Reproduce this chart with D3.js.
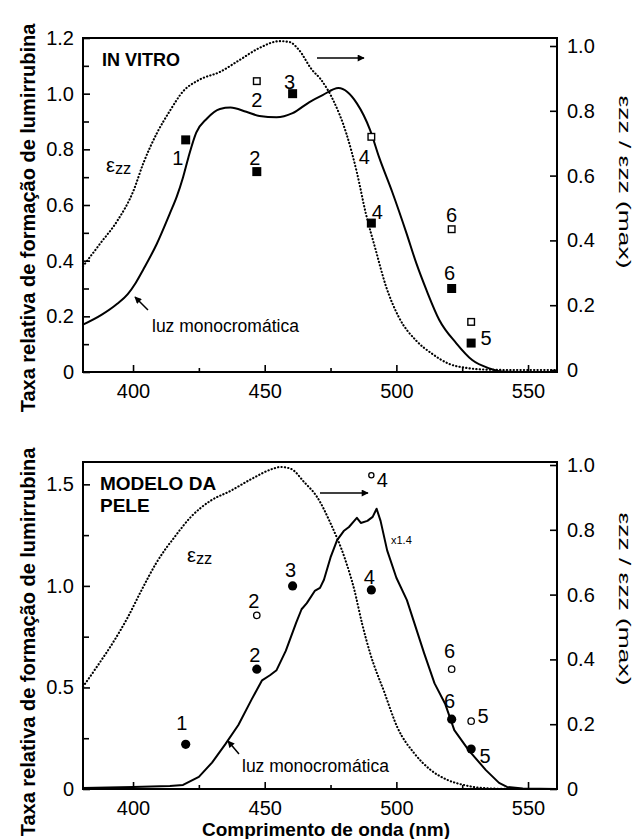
<!DOCTYPE html>
<html><head><meta charset="utf-8">
<script src="https://cdn.jsdelivr.net/npm/d3@7"></script>
<style>
body{margin:0;background:#fff;}
svg text{font-family:"Liberation Sans",Arial,sans-serif;fill:#000;}
</style></head>
<body><svg id="c" width="636" height="839"></svg>
<script>
// ---------- DATA ----------
// Top panel (IN VITRO)
const topLightNm  = [381, 388, 394, 398, 401, 404, 409, 414, 416.6, 419, 421, 424, 428, 433, 437, 443, 448, 454.5, 460.6, 467, 472, 478, 485, 490, 493.5, 498.5, 503.8, 507.6, 511.4, 516.3, 522.7, 528.8, 535, 540, 550, 561];
const topLightVal = [0.17, 0.205, 0.245, 0.28, 0.32, 0.37, 0.46, 0.57, 0.63, 0.70, 0.77, 0.86, 0.91, 0.945, 0.95, 0.935, 0.92, 0.915, 0.93, 0.97, 0.995, 1.02, 0.965, 0.87, 0.77, 0.645, 0.50, 0.39, 0.295, 0.187, 0.104, 0.043, 0.014, 0.002, 0, 0];
const topEpsNm  = [381, 387.5, 394, 400, 404, 409, 414, 419, 425, 433, 440.5, 448, 455.7, 459.5, 463, 468, 471, 476, 481, 485, 488.5, 492, 496, 501, 507.6, 513.6, 520, 527, 535, 545, 561];
const topEpsVal = [0.32, 0.39, 0.46, 0.55, 0.64, 0.73, 0.80, 0.86, 0.895, 0.92, 0.957, 0.994, 1.015, 1.012, 0.988, 0.926, 0.9, 0.833, 0.73, 0.61, 0.48, 0.375, 0.26, 0.162, 0.09, 0.05, 0.019, 0.006, 0.001, 0, 0];

// Bottom panel (MODELO DA PELE)
const botLightNm  = [381, 400, 414, 419, 425, 430, 435, 440, 445, 449, 452, 454.5, 458, 462, 464, 466, 469, 471, 472.5, 475, 477.5, 480, 482, 484, 485, 486.5, 489, 491, 492.5, 494, 496.5, 500, 504, 506.5, 510.5, 514.5, 518.5, 522, 527.5, 534, 539, 542, 548, 561];
const botLightVal = [0.005, 0.01, 0.015, 0.02, 0.06, 0.13, 0.22, 0.315, 0.44, 0.535, 0.56, 0.585, 0.68, 0.82, 0.885, 0.915, 0.975, 0.99, 1.03, 1.14, 1.225, 1.27, 1.29, 1.32, 1.335, 1.31, 1.32, 1.34, 1.38, 1.32, 1.175, 1.04, 0.93, 0.83, 0.67, 0.52, 0.42, 0.29, 0.19, 0.093, 0.03, 0.01, 0.003, 0];
const botEpsNm  = [381, 386.5, 393, 398, 403, 409, 416, 422, 429.5, 437, 445, 453, 456, 460, 465, 470, 475, 480.5, 484, 487, 490, 495.5, 500.4, 506.8, 513, 519.4, 525.8, 533, 545, 561];
const botEpsVal = [0.316, 0.38, 0.46, 0.53, 0.61, 0.70, 0.78, 0.84, 0.89, 0.92, 0.957, 0.988, 0.994, 0.988, 0.947, 0.90, 0.82, 0.71, 0.616, 0.51, 0.42, 0.297, 0.19, 0.11, 0.059, 0.028, 0.012, 0.003, 0, 0];

// Experimental points
const pointNm  = [420, 447, 460.6, 490.5, 521, 528.4];
const pointIds = ["1", "2", "3", "4", "6", "5"];
const topFilled = [0.834, 0.72, 1.0, 0.535, 0.30, 0.104];
const topOpen   = [null, 1.045, null, 0.845, 0.513, 0.18];
const botFilled = [0.22, 0.59, 1.0, 0.98, 0.344, 0.197];
const botOpen   = [null, 0.855, null, 1.545, 0.59, 0.334];

// Tick labels
const xTicks = [400, 450, 500, 550];
const topLeftTicks = [0, 0.2, 0.4, 0.6, 0.8, 1.0, 1.2];
const botLeftTicks = [0, 0.5, 1.0, 1.5];
const rightTicks = [0, 0.2, 0.4, 0.6, 0.8, 1.0];

// ---------- LAYOUT (positions / offsets, not data) ----------
const L = 83, R = 557;
const topP = {t: 38, b: 372, rT: 46, rB: 370, yMax: 1.2, leftTicks: topLeftTicks, minorStep: 0.2, xPad: 12};
const botP = {t: 462, b: 789, rT: 465, rB: 789, yMax: 1.61, leftTicks: botLeftTicks, minorStep: 0.5, xPad: 12};
// label offsets [dx, dy] relative to marker centre (baseline)
const topFilledOff = [[-8, 25], [-2, -7], [-3, -5], [6, -4], [-2, -9], [15, 2]];
const topOpenOff   = [null, [0, 26], null, [-7, 27], [0, -7], null];
const botFilledOff = [[-4, -14], [-2, -7], [-2, -9], [-2, -6], [-2, -11], [14, 14]];
const botOpenOff   = [null, [-3, -7], null, [11, 12], [-2, -11], [12, 2]];

const svg = d3.select("#c");
const fmt = d => d === 0 ? "0" : d3.format(".1f")(d);

function panel(P, lightNm, lightVal, epsNm, epsVal, filled, open, fOff, oOff, shape, smoothLight) {
  const x = d3.scaleLinear().domain([381, 561]).range([L, R]);
  const y = d3.scaleLinear().domain([0, P.yMax]).range([P.b, P.t]);
  const yr = d3.scaleLinear().domain([0, 1]).range([P.rB, P.rT]);
  const g = svg.append("g");

  const fontStyle = s => s.selectAll("text").style("font-size", "20px");
  const ax = g.append("g").attr("transform", `translate(0,${P.b})`)
    .call(d3.axisBottom(x).tickValues(xTicks).tickSize(-7).tickPadding(P.xPad).tickFormat(d3.format("d")));
  g.append("g").attr("transform", `translate(0,${P.b})`)
    .call(d3.axisBottom(x).tickValues([425, 475, 525]).tickSize(-4).tickFormat(""));
  const al = g.append("g").attr("transform", `translate(${L},0)`)
    .call(d3.axisLeft(y).tickValues(P.leftTicks).tickSize(-7).tickPadding(9).tickFormat(fmt));
  const minor = d3.range(P.minorStep / 2, P.yMax, P.minorStep);
  g.append("g").attr("transform", `translate(${L},0)`)
    .call(d3.axisLeft(y).tickValues(minor).tickSize(-6).tickFormat(""));
  const ar = g.append("g").attr("transform", `translate(${R},0)`)
    .call(d3.axisRight(yr).tickValues(rightTicks).tickSize(-7).tickPadding(10).tickFormat(fmt));
  [ax, al, ar].forEach(fontStyle);
  g.selectAll(".domain").remove();
  g.selectAll(".tick line").attr("stroke", "#000").attr("stroke-width", 1.6);

  g.append("rect").attr("x", L).attr("y", P.t).attr("width", R - L).attr("height", P.b - P.t)
    .attr("fill", "none").attr("stroke", "#000").attr("stroke-width", 2);

  const lightLine = d3.line().x((d, i) => x(lightNm[i])).y(d => y(d))
    .curve(smoothLight ? d3.curveMonotoneX : d3.curveLinear);
  g.append("path").attr("d", lightLine(lightVal)).attr("fill", "none")
    .attr("stroke", "#000").attr("stroke-width", 2).attr("stroke-linejoin", "round");
  const epsLine = d3.line().x((d, i) => x(epsNm[i])).y(d => yr(d)).curve(d3.curveMonotoneX);
  g.append("path").attr("d", epsLine(epsVal)).attr("fill", "none")
    .attr("stroke", "#000").attr("stroke-width", 2.1).attr("stroke-linecap", "round")
    .attr("stroke-dasharray", "0.3 3.1");

  pointNm.forEach((nm, i) => {
    const cx = x(nm);
    if (filled[i] != null) {
      const cy = y(filled[i]);
      if (shape === "square") g.append("rect").attr("x", cx - 4.5).attr("y", cy - 4.5).attr("width", 9).attr("height", 9).attr("fill", "#000");
      else g.append("circle").attr("cx", cx).attr("cy", cy).attr("r", 4.6).attr("fill", "#000");
      if (fOff[i]) g.append("text").attr("x", cx + fOff[i][0]).attr("y", cy + fOff[i][1])
        .attr("text-anchor", "middle").style("font-size", "20px").text(pointIds[i]);
    }
    if (open[i] != null) {
      const cy = y(open[i]);
      if (shape === "square") g.append("rect").attr("x", cx - 3.3).attr("y", cy - 3.3).attr("width", 6.6).attr("height", 6.6)
        .attr("fill", "#fff").attr("stroke", "#000").attr("stroke-width", 1.4);
      else g.append("circle").attr("cx", cx).attr("cy", cy).attr("r", i === 3 ? 2.6 : 3.2)
        .attr("fill", "#fff").attr("stroke", "#000").attr("stroke-width", 1.3);
      if (oOff[i]) g.append("text").attr("x", cx + oOff[i][0]).attr("y", cy + oOff[i][1])
        .attr("text-anchor", "middle").style("font-size", "20px").text(pointIds[i]);
    }
  });
  return g;
}

panel(topP, topLightNm, topLightVal, topEpsNm, topEpsVal, topFilled, topOpen, topFilledOff, topOpenOff, "square", true);
panel(botP, botLightNm, botLightVal, botEpsNm, botEpsVal, botFilled, botOpen, botFilledOff, botOpenOff, "circle", false);

const defs = svg.append("defs");
defs.append("marker").attr("id", "ah").attr("viewBox", "0 0 10 10").attr("refX", 9).attr("refY", 5)
  .attr("markerWidth", 9).attr("markerHeight", 7).attr("markerUnits", "userSpaceOnUse").attr("orient", "auto")
  .append("path").attr("d", "M0,0 L10,5 L0,10 Z").attr("fill", "#000");

function arrow(x1, y1, x2, y2) {
  svg.append("line").attr("x1", x1).attr("y1", y1).attr("x2", x2).attr("y2", y2)
    .attr("stroke", "#000").attr("stroke-width", 1.5).attr("marker-end", "url(#ah)");
}
function eps(xp, yp, size) {
  const t = svg.append("text").attr("x", xp).attr("y", yp).style("font-size", size + "px");
  t.append("tspan").text("ε");
  t.append("tspan").attr("dy", 2).style("font-size", (size * 0.82) + "px").text("zz");
}

// Top annotations
svg.append("text").attr("x", 102).attr("y", 66).style("font-size", "18px").style("font-weight", "bold").text("IN VITRO");
eps(106, 172, 20);
arrow(317, 58, 364, 58);
svg.append("text").attr("x", 152).attr("y", 332).style("font-size", "17.5px").text("luz monocromática");
arrow(148, 310, 135, 297);

// Bottom annotations
svg.append("text").attr("x", 100).attr("y", 490).style("font-size", "19px").style("font-weight", "bold").text("MODELO DA");
svg.append("text").attr("x", 100).attr("y", 512).style("font-size", "19px").style("font-weight", "bold").text("PELE");
eps(187, 562, 20);
arrow(320, 493, 368, 493);
svg.append("text").attr("x", 391).attr("y", 544).style("font-size", "11px").text("x1.4");
svg.append("text").attr("x", 242).attr("y", 772).style("font-size", "17.5px").text("luz monocromática");
arrow(239, 754, 228, 741);

// Axis titles
function leftTitle(cy) {
  svg.append("text").attr("transform", `translate(35,${cy}) rotate(-90)`).attr("text-anchor", "middle")
    .style("font-size", "20px").style("font-weight", "bold").text("Taxa relativa de formação de lumirrubina");
}
leftTitle(218); leftTitle(642);
function rightTitle(cy) {
  svg.append("text").attr("transform", `translate(619,${cy}) rotate(90)`).attr("text-anchor", "middle")
    .style("font-size", "17px").attr("textLength", 173).attr("lengthAdjust", "spacingAndGlyphs")
    .text("εzz / εzz (max)");
}
rightTitle(182); rightTitle(599);
svg.append("text").attr("x", 326).attr("y", 836).attr("text-anchor", "middle")
  .style("font-size", "19px").style("font-weight", "bold").text("Comprimento de onda (nm)");
</script></body></html>
